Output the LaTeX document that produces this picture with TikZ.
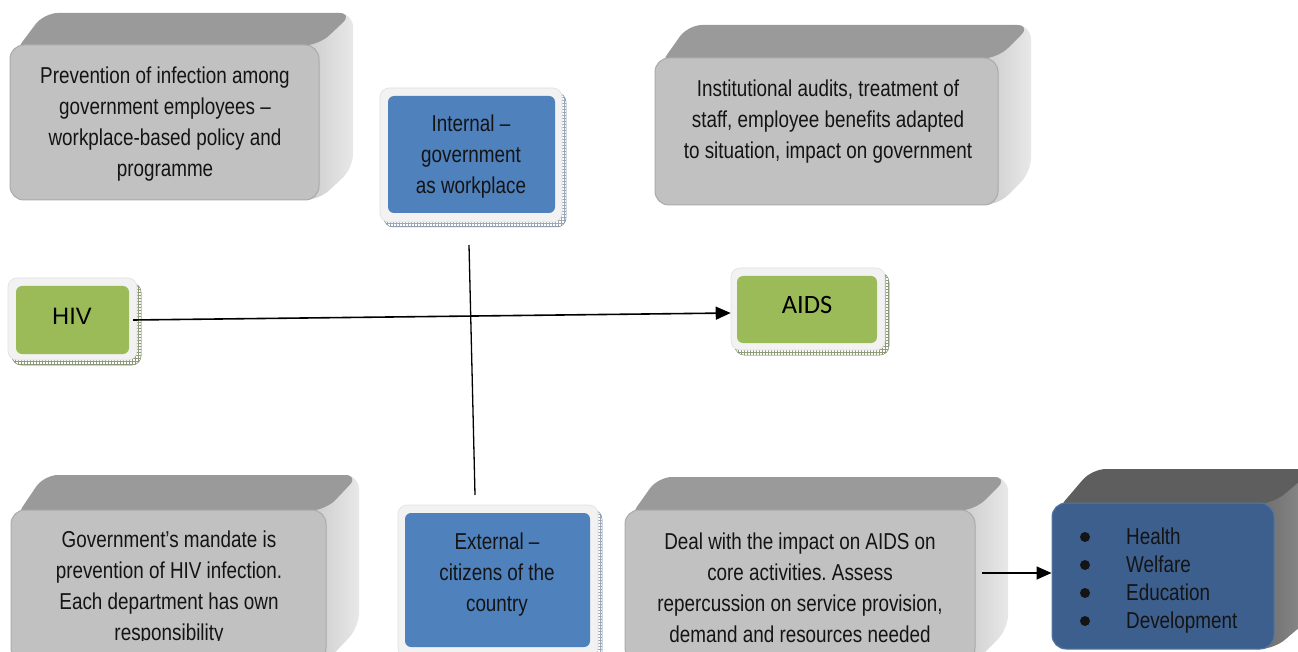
\documentclass[tikz,border=0pt]{standalone}
\usepackage{fontspec}
\setmainfont{Liberation Sans}
\newfontfamily\narrowfont{Liberation Sans}[FakeStretch=0.82]
\newfontfamily\calfont{Carlito}
\usetikzlibrary{arrows.meta,patterns,shadows}
\frenchspacing
\definecolor{cubetop}{HTML}{9A9A9A}
\definecolor{cubesideL}{HTML}{C2C2C2}
\definecolor{cubesideR}{HTML}{E8E8E8}
\definecolor{cubefront}{HTML}{C1C1C1}
\definecolor{cubeedge}{HTML}{AAAAAA}
\definecolor{darktop}{HTML}{5E5E5E}
\definecolor{darksideL}{HTML}{636363}
\definecolor{darksideR}{HTML}{8E8E8E}
\definecolor{darkfront}{HTML}{3D5F8E}
\definecolor{darkedge}{HTML}{55779F}
\definecolor{offblue}{HTML}{4F81BD}
\definecolor{offgreen}{HTML}{9BBB59}
\definecolor{framefill}{HTML}{F2F2F2}
\definecolor{frameedge}{HTML}{E0E0E0}
\definecolor{blueshadow}{HTML}{5A6E8C}
\definecolor{greenshadow}{HTML}{5E7040}
% back faces of a 3D box: #1 x1, #2 y1, #3 x2, #4 y2, #5 dx, #6 dy, #7 colour prefix
\newcommand\cubeback[7]{%
  \path[left color=#7sideL, right color=#7sideR, rounded corners=14pt]
    ({#3-30},{#2}) -- ({#3-30+#5},{#2-#6}) -- ({#3+#5},{#2-#6}) --
    ({#3+#5},{#4-#6}) -- ({#3},{#4}) -- ({#3-30},{#4}) -- cycle;
  \path[fill=#7top, rounded corners=14pt]
    ({#1+4},{#2+8}) -- ({#1+#5},{#2-#6}) -- ({#3+#5},{#2-#6}) -- ({#3},{#2}) -- cycle;
}
\tikzset{
  front/.style={rounded corners=14pt, fill=cubefront, draw=cubeedge, line width=1pt, inner sep=0pt},
  darkfrontbox/.style={rounded corners=14pt, fill=darkfront, draw=darkedge, line width=1pt, inner sep=0pt},
  txt/.style={font=\narrowfont\fontsize{23}{31}\selectfont, align=center, inner sep=0pt, text=black!92},
  listtxt/.style={font=\narrowfont\fontsize{23}{28}\selectfont, align=left, inner sep=0pt, text=black!92},
  bulletdot/.style={circle, fill=black!92, minimum size=10pt, inner sep=0pt},
  frameg/.style={rounded corners=9pt, fill=framefill, draw=frameedge, line width=0.6pt, inner sep=0pt,
    general shadow={shadow xshift=4pt, shadow yshift=-5pt, draw=greenshadow!80, line width=0.5pt,
      pattern=grid, pattern color=greenshadow!70}},
  frameb/.style={rounded corners=9pt, fill=framefill, draw=frameedge, line width=0.6pt, inner sep=0pt,
    general shadow={shadow xshift=4pt, shadow yshift=-5pt, draw=blueshadow!80, line width=0.5pt,
      pattern=grid, pattern color=blueshadow!60}},
  greenbox/.style={rounded corners=6pt, fill=offgreen, draw=none, inner sep=0pt},
  bluebox/.style={rounded corners=6pt, fill=offblue, draw=none, inner sep=0pt},
  conn/.style={line width=1.6pt, black},
  arr/.style={conn, -{Triangle[length=15pt,width=13pt]}}
}
\begin{document}
\begin{tikzpicture}[x=1pt,y=-1pt]
\useasboundingbox (0,0) rectangle (1298,652);
\clip (0,0) rectangle (1298,652);
\fill[white] (0,0) rectangle (1298,652);

% ---- top-left cube
\cubeback{10}{45}{319}{200}{34}{32}{cube}
\node[front, minimum width=309pt, minimum height=155pt] (tl) at (164.5,122.5) {};
\node[txt] (tlt) at (165,124) {Prevention of infection among\\government employees –\\workplace-based policy and\\programme};

% ---- top-right cube
\cubeback{655}{58}{998}{205}{33}{33}{cube}
\node[front, minimum width=343pt, minimum height=147pt] (tr) at (826.5,131.5) {};
\node[txt] (trt) at (828,121.5) {Institutional audits, treatment of\\staff, employee benefits adapted\\to situation, impact on government};

% ---- bottom-left cube
\cubeback{11}{510}{326}{662}{33}{35}{cube}
\node[front, minimum width=315pt, minimum height=152pt] (bl) at (168.5,586) {};
\begin{scope}
\clip (0,0) rectangle (1298,640);
\node[txt] (blt) at (169,588) {Government’s mandate is\\prevention of HIV infection.\\Each department has own\\responsibility};
\end{scope}

% ---- bottom-middle cube
\cubeback{625}{510}{975}{662}{33}{33}{cube}
\node[front, minimum width=350pt, minimum height=152pt] (bm) at (800,586) {};
\node[txt] (bmt) at (800,588) {Deal with the impact on AIDS on\\core activities. Assess\\repercussion on service provision,\\demand and resources needed};

% ---- dark blue cube
\cubeback{1052}{503}{1274}{649}{40}{34}{dark}
\node[darkfrontbox, minimum width=222pt, minimum height=146pt] (db) at (1163,576) {};
\node[bulletdot] (b1) at (1085,537) {};
\node[bulletdot] (b2) at (1085,565) {};
\node[bulletdot] (b3) at (1085,593) {};
\node[bulletdot] (b4) at (1085,621) {};
\node[listtxt, anchor=west] (dbl) at (1126,580.5) {Health\\Welfare\\Education\\Development};

% ---- framed boxes
\node[frameb, minimum width=182pt, minimum height=134pt] (intf) at (471,155) {};
\node[bluebox, minimum width=167pt, minimum height=117pt] (int) at (471.5,154.5) {};
\node[txt] (intt) at (471,157) {Internal –\\government\\as workplace};

\node[frameb, minimum width=200pt, minimum height=152pt] (extf) at (498,581) {};
\node[bluebox, minimum width=185pt, minimum height=134pt] (ext) at (497.5,580) {};
\node[txt] (extt) at (497,575) {External –\\citizens of the\\country};

\node[frameg, minimum width=129pt, minimum height=82pt] (hivf) at (72.5,319) {};
\node[greenbox, minimum width=113pt, minimum height=68pt] (hiv) at (72.5,320) {};
\node[font=\fontsize{23.7}{28}\selectfont, inner sep=0pt] (hivt) at (72,316) {HIV};

\node[frameg, minimum width=154pt, minimum height=82pt] (aidsf) at (808,309) {};
\node[greenbox, minimum width=140pt, minimum height=67pt] (aids) at (807,309.5) {};
\node[font=\calfont\fontsize{26.5}{30}\selectfont, inner sep=0pt] (aidst) at (807,305) {AIDS};

% ---- connectors
\draw[arr] ([xshift=4pt]hiv.east) -- ([yshift=-4pt]aidsf.west);
\coordinate (vtop) at (469,245);
\coordinate (vbot) at (475,495);
\draw[conn, line width=1.3pt] (vtop) -- (vbot);
\coordinate (bmout) at (982,573);
\draw[arr] (bmout) -- (bmout -| db.west);
\end{tikzpicture}
\end{document}
